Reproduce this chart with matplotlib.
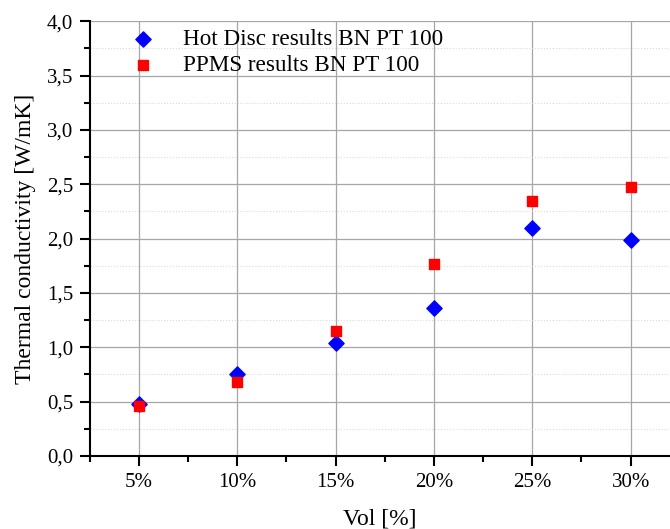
import numpy as np
import matplotlib.pyplot as plt
from matplotlib.ticker import MultipleLocator, FuncFormatter

# 数据
vol_labels = ['5%', '10%', '15%', '20%', '25%', '30%']
hot_disc = [0.48, 0.75, 1.04, 1.36, 2.10, 1.99]
ppms = [0.46, 0.68, 1.15, 1.77, 2.35, 2.47]

plt.rcParams['font.family'] = ['Liberation Serif', 'DejaVu Serif']

fig = plt.figure(figsize=(6.7, 5.29), dpi=100)
ax = fig.add_axes([0.134, 0.138, 0.866, 0.822])

x = np.arange(1, len(vol_labels) + 1)

# 网格
ax.grid(which='major', axis='both', color='0.65', linewidth=0.9, linestyle='-')
ax.grid(which='minor', axis='y', color='0.85', linewidth=0.8, linestyle=':')
ax.set_axisbelow(True)

ax.scatter(x, hot_disc, marker='D', color='blue', s=60, label='Hot Disc results BN PT 100', zorder=3)
ax.scatter(x, ppms, marker='s', color='red', s=60, label='PPMS results BN PT 100', zorder=3)

ax.set_xlim(0.5, 6.4)
ax.set_ylim(0, 4.0)
ax.set_xticks(x)
ax.set_xticklabels(vol_labels)
ax.xaxis.set_minor_locator(MultipleLocator(0.5))
ax.yaxis.set_major_locator(MultipleLocator(0.5))
ax.yaxis.set_minor_locator(MultipleLocator(0.25))
ax.yaxis.set_major_formatter(FuncFormatter(lambda v, p: ('%.1f' % v).replace('.', ',')))

ax.tick_params(which='major', direction='out', length=7, width=1.5, labelsize=15, pad=5)
ax.tick_params(which='minor', direction='out', length=4, width=1.5)
# x轴次刻度不画网格
ax.xaxis.grid(False, which='minor')

for s in ['top', 'right']:
    ax.spines[s].set_visible(False)
for s in ['left', 'bottom']:
    ax.spines[s].set_linewidth(1.5)

ax.set_ylabel('Thermal conductivity [W/mK]', fontsize=17, labelpad=8)
ax.set_xlabel('Vol [%]', fontsize=17, labelpad=12)

ax.legend(loc='upper left', bbox_to_anchor=(0.028, 1.015), frameon=False, fontsize=16.7,
          handletextpad=0.7, labelspacing=0.2, borderaxespad=0.2)

plt.savefig('out.png', dpi=100)
